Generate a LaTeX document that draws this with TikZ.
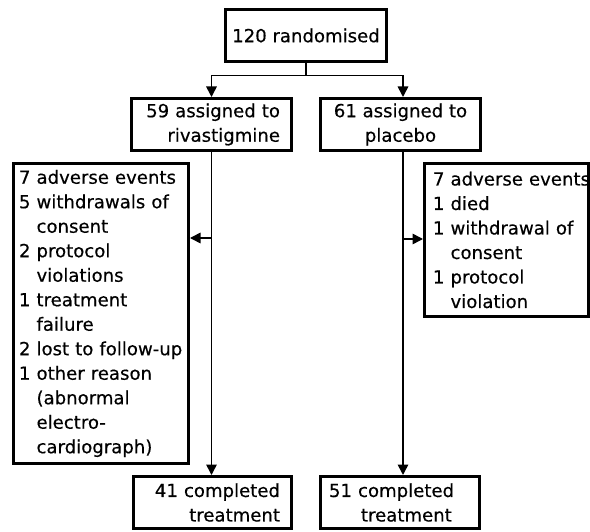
\documentclass[tikz,border=0pt]{standalone}
\usepackage{fontspec}
\setmainfont{DejaVu Sans}[FakeBold=0.4]
\usetikzlibrary{arrows.meta}
\begin{document}
\begin{tikzpicture}[x=1pt,y=-1pt,
  box/.style={draw, line width=3.3pt, inner sep=0pt, font=\fontsize{18.1}{24.5}\selectfont},
  twoline/.style={box, minimum height=51.7pt},
  conn/.style={line width=1.6pt},
  arr/.style={conn, -{Triangle[length=10.5pt,width=10.5pt]}}]
\useasboundingbox (0,0) rectangle (590,532);
\fill[white] (0,0) rectangle (590,532);

\node[twoline, minimum width=160.7pt] (top) at (306,35.5) {120 randomised};
\node[twoline, minimum width=159.7pt, text width=137pt, align=right] (lg) at (211.5,124.5) {59 assigned to\\rivastigmine};
\node[twoline, minimum width=159.7pt, align=center] (rg) at (400.5,124.5) {61 assigned to\\placebo};

\node[box, minimum width=174.7pt, minimum height=299.7pt, text width=164pt, align=left] (ls) at (101,313.5)
 {7 adverse events\\
  5 withdrawals of\\
  \phantom{5\ }consent\\
  2 protocol\\
  \phantom{2\ }violations\\
  1 treatment\\
  \phantom{1\ }failure\\
  2 lost to follow-up\\
  1 other reason\\
  \phantom{1\ }(abnormal\\
  \phantom{1\ }electro-\\
  \phantom{1\ }cardiograph)};

\node[box, minimum width=163.7pt, minimum height=152.7pt, text width=147pt, align=left] (rs) at (506.5,240)
 {\mbox{7 adverse events}\\
  1 died\\
  1 withdrawal of\\
  \phantom{1\ }consent\\
  1 protocol\\
  \phantom{1\ }violation};

\node[twoline, minimum width=157.7pt, text width=135pt, align=right] (lb) at (212.5,502.5) {41 completed\\treatment\hspace*{6pt}};
\node[twoline, minimum width=158.7pt, text width=142pt, align=left] (rb) at (400,502.5) {51 completed\\\hspace*{32pt}treatment};

\coordinate (j) at (306,75.5);
\draw[conn] (top.south) -- (j);
\draw[arr] (j) -| (lg.north);
\draw[arr] (j) -| ([xshift=2.5pt]rg.north);

\draw[arr] (lg.south) -- (lg.south |- lb.north);
\draw[arr] ([xshift=2.5pt]rg.south) -- ([xshift=2.5pt]rg.south |- rb.north);

\coordinate (lj) at (211.5,238);
\draw[arr] (lj) -- (lj -| ls.east);
\coordinate (rj) at (403,239);
\draw[arr] (rj) -- (rj -| rs.west);
\end{tikzpicture}
\end{document}
